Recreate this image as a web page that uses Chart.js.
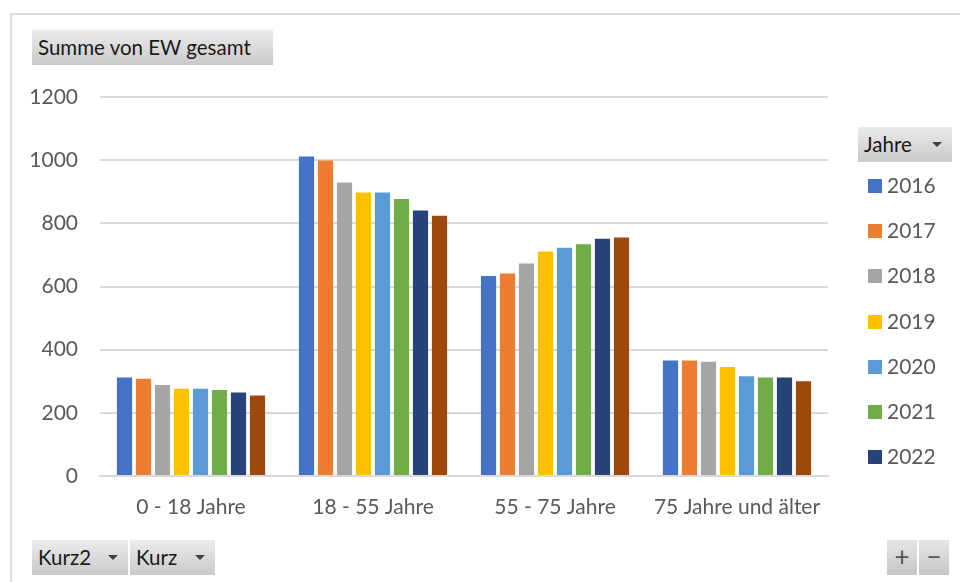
<!DOCTYPE html>
<html>
<head>
<meta charset="utf-8">
<script src="https://cdn.jsdelivr.net/npm/chart.js@4"></script>
<style>
  body { margin: 0; width: 960px; height: 582px; background: #fff; overflow: hidden; font-family: Lato, "Open Sans", sans-serif; }
  #frame { position: absolute; left: 10px; top: 13px; width: 960px; height: 600px; border: 2px solid #dcdcdc; box-sizing: border-box; }
  #wrap { position: absolute; left: 0; top: 0; width: 960px; height: 582px; }
  .btn { position: absolute; height: 35px; line-height: 35px; box-sizing: border-box; padding-left: 6px;
         background: linear-gradient(#ececec, #c9c9c9); color: #1a1a1a; font-size: 20.5px; }
  .btn .arr { position: absolute; right: 10px; top: 15px; width: 0; height: 0;
              border-left: 5px solid transparent; border-right: 5px solid transparent; border-top: 5px solid #404040; }
  #legend { position: absolute; left: 868px; top: 170px; }
  .item { height: 45.2px; font-size: 21px; color: #595959; position: relative; }
  .item span.sw { position: absolute; left: 0; top: 9px; width: 14px; height: 14px; }
  .item span.tx { position: absolute; left: 19px; top: 2px; }
  .pm { position: absolute; top: 540px; width: 30px; height: 35px; background: linear-gradient(#e6e6e6, #c6c6c6);
        color: #555; font-size: 26px; text-align: center; line-height: 33px; }
</style>
</head>
<body>
<div id="frame"></div>
<div id="wrap"><canvas id="c"></canvas></div>
<div class="btn" style="left:32px;top:30px;width:241px;">Summe von EW gesamt</div>
<div class="btn" style="left:858px;top:127px;width:94px;">Jahre<span class="arr"></span></div>
<div class="btn" style="left:32px;top:540px;width:96px;">Kurz2<span class="arr"></span></div>
<div class="btn" style="left:130px;top:540px;width:85px;">Kurz<span class="arr"></span></div>
<div class="pm" style="left:887px;">+</div>
<div class="pm" style="left:919px;">−</div>
<div id="legend"></div>
<script>
// Altersgruppen
const categories = ['0 - 18 Jahre', '18 - 55 Jahre', '55 - 75 Jahre', '75 Jahre und älter'];
const years = ['2016', '2017', '2018', '2019', '2020', '2021', '2022', '2023'];
const colors = ['#4472C4', '#ED7D31', '#A5A5A5', '#FFC000', '#5B9BD5', '#70AD47', '#264478', '#9E480E'];

// Werte je Jahr
const v2016 = [312, 1012, 633, 366];
const v2017 = [308, 999, 641, 366];
const v2018 = [288, 929, 673, 362];
const v2019 = [276, 898, 711, 345];
const v2020 = [276, 898, 723, 316];
const v2021 = [272, 877, 734, 312];
const v2022 = [264, 841, 751, 312];
const v2023 = [255, 824, 755, 300];
const series = [v2016, v2017, v2018, v2019, v2020, v2021, v2022, v2023];

const yTicks = [0, 200, 400, 600, 800, 1000, 1200];
const legendCount = 7; // Legende ist im Original nach 2022 abgeschnitten

const ctx = document.getElementById('c').getContext('2d');
const chart = new Chart(ctx, {
    type: 'bar',
    data: {
        labels: categories,
        datasets: years.map((y, i) => ({
            label: y,
            data: series[i],
            backgroundColor: colors[i],
            borderWidth: 0,
            categoryPercentage: 0.835,
            barPercentage: 0.8
        }))
    },
    options: {
        responsive: true,
        maintainAspectRatio: false,
        animation: false,
        layout: { padding: { left: 20, top: 97, right: 132, bottom: 46 } },
        plugins: { legend: { display: false }, tooltip: { enabled: false } },
        scales: {
            x: {
                grid: { display: false, drawTicks: false },
                border: { color: '#d9d9d9', width: 2 },
                ticks: { color: '#595959', font: { family: 'Lato', size: 21 }, padding: 19, maxRotation: 0 },
                afterFit: (s) => { s.height = 60; }
            },
            y: {
                min: 0,
                max: 1200,
                afterBuildTicks: (s) => { s.ticks = yTicks.map(v => ({ value: v })); },
                grid: { color: '#d9d9d9', lineWidth: 2, drawTicks: false },
                border: { display: false },
                ticks: { color: '#595959', font: { family: 'Lato', size: 21 }, padding: 22, callback: (v) => String(v) },
                afterFit: (s) => { s.width = 80; }
            }
        }
    }
});

// HTML-Legende aus den Datensätzen
const lg = document.getElementById('legend');
chart.data.datasets.slice(0, legendCount).forEach(ds => {
    const d = document.createElement('div');
    d.className = 'item';
    d.innerHTML = '<span class="sw" style="background:' + ds.backgroundColor + '"></span><span class="tx">' + ds.label + '</span>';
    lg.appendChild(d);
});
</script>
</body>
</html>
